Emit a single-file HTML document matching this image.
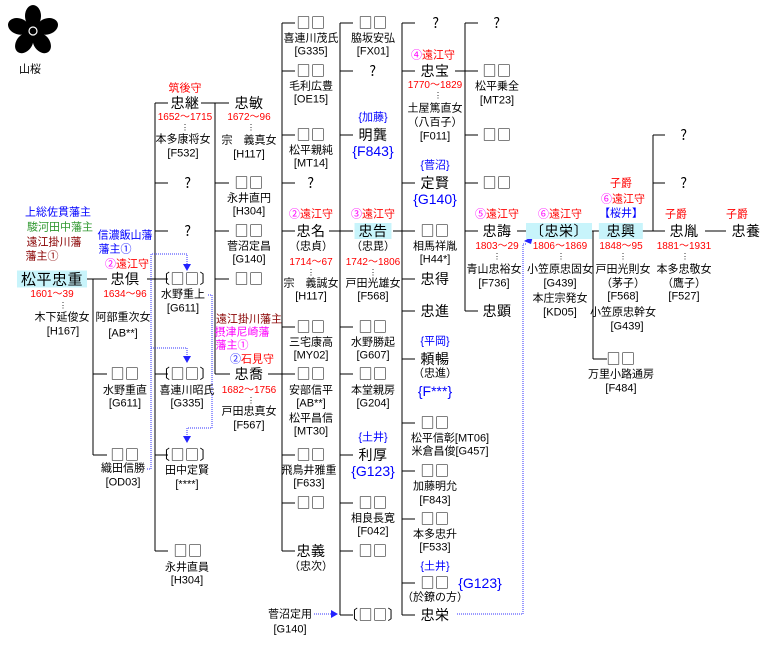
<!DOCTYPE html>
<html><head><meta charset="utf-8"><style>
body{margin:0;background:#fff;width:764px;height:650px;position:relative;overflow:hidden;font-family:"Liberation Sans","Noto Sans CJK JP",sans-serif;color:#000}
.n,.s,.r,.b,.bl,.g,.dr,.m,.rd{position:absolute;transform:translate(-50%,-50%);white-space:nowrap;line-height:1}
.n{font-size:14px;font-family:"Noto Sans CJK JP",sans-serif;letter-spacing:0.5px}
.s{font-size:11px}
.r{font-size:10px;color:#f00}
.b{font-size:11px;color:#00f}
.bl{font-size:14px;color:#00f}
.g{font-size:11px;color:#393}
.dr{font-size:11px;color:#800}
.m{font-size:11px;color:#f0f}
.c{background:#c8f4fb;padding:1px 4px}
.mg{color:#f0f}
.rd{color:#f00;font-size:11px}
svg{position:absolute;left:0;top:0}
</style></head><body>
<svg width="764" height="650" viewBox="0 0 764 650">
<g fill="#000">
<ellipse cx="33" cy="16" rx="8" ry="11"/>
<ellipse cx="33" cy="16" rx="8" ry="11" transform="rotate(72 33 31)"/>
<ellipse cx="33" cy="16" rx="8" ry="11" transform="rotate(144 33 31)"/>
<ellipse cx="33" cy="16" rx="8" ry="11" transform="rotate(216 33 31)"/>
<ellipse cx="33" cy="16" rx="8" ry="11" transform="rotate(288 33 31)"/>
<circle cx="33" cy="31" r="10"/>
</g><circle cx="33" cy="31" r="4" fill="none" stroke="#fff" stroke-width="1.2"/>
<g stroke="#000" stroke-width="1" fill="none" shape-rendering="crispEdges">
<path d="M93 279V455M80 279H107M93 374H107M93 455H107"/>
<path d="M155 103V551M147 279H168M155 103H168M155 183H168M155 231H168M155 374H168M155 455H168M155 551H168"/>
<path d="M215 103V374M201 103H229M215 183H229M215 231H229M215 279H229M215 374H230"/>
<path d="M282 23V551M268 374H295M282 23H295M282 71H295M282 135H295M282 183H295M282 231H295M282 327H295M282 455H295M282 503H295M282 551H295"/>
<path d="M340 23V615M329 231H353M340 23H353M340 71H353M340 135H353M340 327H353M340 374H353M340 455H353M340 503H353M340 551H353M340 615H353"/>
<path d="M402 23V615M393 231H415M402 23H415M402 71H415M402 183H415M402 279H415M402 311H415M402 359H415M402 423H415M402 471H415M402 519H415M402 583H415M402 615H415"/>
<path d="M465 23V311M455 71H478M465 23H478M465 135H478M465 183H478M465 231H478M465 311H478"/>
<path d="M517 231H537M582 231H601M593 231V359M593 359H607"/>
<path d="M642 231H665M653 135V231M653 135H665M653 183H665M705 231H726"/>
</g>
<g stroke="#33f" stroke-width="1" stroke-dasharray="1,1" fill="none" shape-rendering="crispEdges">
<path d="M147 469H151V254H187V264M151 348H187V356M208 295H212V428H187V436M314 614H331M457 614H523V244H526"/>
</g>
<g fill="#22f">
<path d="M183 264h8l-4 7z"/><path d="M183 356h8l-4 7z"/><path d="M183 436h8l-4 7z"/><path d="M331 610v8l7-4z"/><path d="M524 241l9-5-2 8z"/>
</g>
</svg>
<div class="s" style="left:30px;top:70px">山桜</div>
<div class="b" style="left:58px;top:213px">上総佐貫藩主</div>
<div class="g" style="left:60px;top:228px">駿河田中藩主</div>
<div class="dr" style="left:54px;top:243px">遠江掛川藩</div>
<div class="dr" style="left:42px;top:257px">藩主①</div>
<div class="b" style="left:125px;top:236px">信濃飯山藩</div>
<div class="b" style="left:115px;top:250px">藩主①</div>
<div class="rd" style="left:127px;top:265px"><span class="mg">②</span>遠江守</div>
<div class="n c" style="left:52px;top:279px;font-size:15px">松平忠重</div>
<div class="r" style="left:52px;top:295px">1601～39</div>
<div class="s" style="left:63px;top:306px;font-size:8px">⋮</div>
<div class="s" style="left:62px;top:318px">木下延俊女</div>
<div class="s" style="left:63px;top:332px">[H167]</div>
<div class="n" style="left:125px;top:279px">忠倶</div>
<div class="r" style="left:125px;top:295px">1634～96</div>
<div class="s" style="left:123px;top:318px">阿部重次女</div>
<div class="s" style="left:123px;top:334px">[AB**]</div>
<div class="n" style="left:125px;top:374px">□□</div>
<div class="s" style="left:125px;top:391px">水野重直</div>
<div class="s" style="left:125px;top:404px">[G611]</div>
<div class="n" style="left:125px;top:455px">□□</div>
<div class="s" style="left:123px;top:469px">織田信勝</div>
<div class="s" style="left:123px;top:483px">[OD03]</div>

<div class="rd" style="left:185px;top:89px">筑後守</div>
<div class="n" style="left:185px;top:103px">忠継</div>
<div class="r" style="left:185px;top:118px">1652～1715</div>
<div class="s" style="left:185px;top:128px;font-size:8px">⋮</div>
<div class="s" style="left:183px;top:140px">本多康将女</div>
<div class="s" style="left:183px;top:154px">[F532]</div>
<div class="n" style="left:188px;top:183px">?</div>
<div class="n" style="left:188px;top:231px">?</div>
<div class="n" style="left:185px;top:279px">〔□□〕</div>
<div class="s" style="left:183px;top:295px">水野重上</div>
<div class="s" style="left:183px;top:309px">[G611]</div>
<div class="n" style="left:185px;top:374px">〔□□〕</div>
<div class="s" style="left:187px;top:391px">喜連川昭氏</div>
<div class="s" style="left:187px;top:404px">[G335]</div>
<div class="n" style="left:185px;top:455px">〔□□〕</div>
<div class="s" style="left:187px;top:471px">田中定賢</div>
<div class="s" style="left:187px;top:485px">[****]</div>
<div class="n" style="left:188px;top:551px">□□</div>
<div class="s" style="left:187px;top:568px">永井直員</div>
<div class="s" style="left:187px;top:581px">[H304]</div>

<div class="n" style="left:249px;top:103px">忠敏</div>
<div class="r" style="left:249px;top:118px">1672～96</div>
<div class="s" style="left:251px;top:128px;font-size:8px">⋮</div>
<div class="s" style="left:249px;top:141px">宗　義真女</div>
<div class="s" style="left:249px;top:155px">[H117]</div>
<div class="n" style="left:249px;top:183px">□□</div>
<div class="s" style="left:249px;top:199px">永井直円</div>
<div class="s" style="left:249px;top:212px">[H304]</div>
<div class="n" style="left:249px;top:231px">□□</div>
<div class="s" style="left:249px;top:247px">菅沼定昌</div>
<div class="s" style="left:249px;top:260px">[G140]</div>
<div class="n" style="left:249px;top:279px">□□</div>
<div class="dr" style="left:249px;top:320px">遠江掛川藩主</div>
<div class="m" style="left:242px;top:333px">摂津尼崎藩</div>
<div class="m" style="left:232px;top:346px">藩主①</div>
<div class="rd" style="left:252px;top:360px"><span style="color:#33f">②</span>石見守</div>
<div class="n" style="left:249px;top:374px">忠喬</div>
<div class="r" style="left:249px;top:391px">1682～1756</div>
<div class="s" style="left:251px;top:401px;font-size:8px">⋮</div>
<div class="s" style="left:249px;top:412px">戸田忠真女</div>
<div class="s" style="left:249px;top:426px">[F567]</div>

<div class="n" style="left:311px;top:23px">□□</div>
<div class="s" style="left:311px;top:39px">喜連川茂氏</div>
<div class="s" style="left:311px;top:52px">[G335]</div>
<div class="n" style="left:311px;top:71px">□□</div>
<div class="s" style="left:311px;top:87px">毛利広豊</div>
<div class="s" style="left:311px;top:100px">[OE15]</div>
<div class="n" style="left:311px;top:135px">□□</div>
<div class="s" style="left:311px;top:151px">松平親純</div>
<div class="s" style="left:311px;top:164px">[MT14]</div>
<div class="n" style="left:311px;top:183px">?</div>
<div class="rd" style="left:311px;top:215px"><span class="mg">②</span>遠江守</div>
<div class="n" style="left:311px;top:231px">忠名</div>
<div class="s" style="left:311px;top:247px">（忠貞）</div>
<div class="r" style="left:311px;top:263px">1714～67</div>
<div class="s" style="left:311px;top:273px;font-size:8px">⋮</div>
<div class="s" style="left:311px;top:284px">宗　義誠女</div>
<div class="s" style="left:311px;top:297px">[H117]</div>
<div class="n" style="left:311px;top:327px">□□</div>
<div class="s" style="left:311px;top:343px">三宅康高</div>
<div class="s" style="left:311px;top:356px">[MY02]</div>
<div class="n" style="left:311px;top:374px">□□</div>
<div class="s" style="left:311px;top:391px">安部信平</div>
<div class="s" style="left:311px;top:404px">[AB**]</div>
<div class="s" style="left:311px;top:419px">松平昌信</div>
<div class="s" style="left:311px;top:432px">[MT30]</div>
<div class="n" style="left:311px;top:455px">□□</div>
<div class="s" style="left:309px;top:471px">飛鳥井雅重</div>
<div class="s" style="left:309px;top:484px">[F633]</div>
<div class="n" style="left:311px;top:503px">□□</div>
<div class="n" style="left:311px;top:551px">忠義</div>
<div class="s" style="left:311px;top:567px">（忠次）</div>
<div class="s" style="left:290px;top:615px">菅沼定用</div>
<div class="s" style="left:290px;top:630px">[G140]</div>

<div class="n" style="left:373px;top:23px">□□</div>
<div class="s" style="left:373px;top:39px">脇坂安弘</div>
<div class="s" style="left:373px;top:52px">[FX01]</div>
<div class="n" style="left:373px;top:71px">?</div>
<div class="b" style="left:373px;top:118px">{加藤}</div>
<div class="n" style="left:373px;top:135px">明龔</div>
<div class="bl" style="left:373px;top:151px">{F843}</div>
<div class="rd" style="left:373px;top:215px"><span class="mg">③</span>遠江守</div>
<div class="n c" style="left:373px;top:231px">忠告</div>
<div class="s" style="left:373px;top:247px">（忠毘）</div>
<div class="r" style="left:373px;top:263px">1742～1806</div>
<div class="s" style="left:373px;top:273px;font-size:8px">⋮</div>
<div class="s" style="left:373px;top:284px">戸田光雄女</div>
<div class="s" style="left:373px;top:297px">[F568]</div>
<div class="n" style="left:373px;top:327px">□□</div>
<div class="s" style="left:373px;top:343px">水野勝起</div>
<div class="s" style="left:373px;top:356px">[G607]</div>
<div class="n" style="left:373px;top:374px">□□</div>
<div class="s" style="left:373px;top:391px">本堂親房</div>
<div class="s" style="left:373px;top:404px">[G204]</div>
<div class="b" style="left:373px;top:438px">{土井}</div>
<div class="n" style="left:373px;top:455px">利厚</div>
<div class="bl" style="left:373px;top:471px">{G123}</div>
<div class="n" style="left:373px;top:503px">□□</div>
<div class="s" style="left:373px;top:519px">相良長寛</div>
<div class="s" style="left:373px;top:532px">[F042]</div>
<div class="n" style="left:373px;top:551px">□□</div>
<div class="n" style="left:373px;top:615px">〔□□〕</div>

<div class="n" style="left:436px;top:23px">?</div>
<div class="rd" style="left:433px;top:56px"><span class="mg">④</span>遠江守</div>
<div class="n" style="left:435px;top:71px">忠宝</div>
<div class="r" style="left:435px;top:86px">1770～1829</div>
<div class="s" style="left:438px;top:96px;font-size:8px">⋮</div>
<div class="s" style="left:435px;top:109px">土屋篤直女</div>
<div class="s" style="left:435px;top:123px">（八百子）</div>
<div class="s" style="left:435px;top:137px">[F011]</div>
<div class="b" style="left:435px;top:166px">{菅沼}</div>
<div class="n" style="left:435px;top:183px">定賢</div>
<div class="bl" style="left:435px;top:199px">{G140}</div>
<div class="n" style="left:435px;top:231px">□□</div>
<div class="s" style="left:435px;top:247px">相馬祥胤</div>
<div class="s" style="left:435px;top:260px">[H44*]</div>
<div class="n" style="left:435px;top:279px">忠得</div>
<div class="n" style="left:435px;top:311px">忠進</div>
<div class="b" style="left:435px;top:342px">{平岡}</div>
<div class="n" style="left:435px;top:359px">頼暢</div>
<div class="s" style="left:435px;top:374px">（忠進）</div>
<div class="bl" style="left:435px;top:391px">{F***}</div>
<div class="n" style="left:435px;top:423px">□□</div>
<div class="s" style="left:450px;top:439px">松平信彰[MT06]</div>
<div class="s" style="left:450px;top:452px">米倉昌俊[G457]</div>
<div class="n" style="left:435px;top:471px">□□</div>
<div class="s" style="left:435px;top:487px">加藤明允</div>
<div class="s" style="left:435px;top:501px">[F843]</div>
<div class="n" style="left:435px;top:519px">□□</div>
<div class="s" style="left:435px;top:535px">本多忠升</div>
<div class="s" style="left:435px;top:548px">[F533]</div>
<div class="b" style="left:435px;top:567px">{土井}</div>
<div class="n" style="left:435px;top:583px">□□</div>
<div class="bl" style="left:480px;top:583px">{G123}</div>
<div class="s" style="left:435px;top:598px">（於鐐の方）</div>
<div class="n" style="left:435px;top:615px">忠栄</div>

<div class="n" style="left:497px;top:23px">?</div>
<div class="n" style="left:497px;top:71px">□□</div>
<div class="s" style="left:497px;top:87px">松平乗全</div>
<div class="s" style="left:497px;top:101px">[MT23]</div>
<div class="n" style="left:497px;top:135px">□□</div>
<div class="n" style="left:497px;top:183px">□□</div>
<div class="rd" style="left:497px;top:215px"><span class="mg">⑤</span>遠江守</div>
<div class="n" style="left:497px;top:231px">忠誨</div>
<div class="r" style="left:497px;top:247px">1803～29</div>
<div class="s" style="left:497px;top:257px;font-size:8px">⋮</div>
<div class="s" style="left:494px;top:270px">青山忠裕女</div>
<div class="s" style="left:494px;top:284px">[F736]</div>
<div class="n" style="left:497px;top:311px">忠顕</div>

<div class="rd" style="left:560px;top:215px"><span class="mg">⑥</span>遠江守</div>
<div class="n c" style="left:559px;top:231px">〔忠栄〕</div>
<div class="r" style="left:560px;top:247px">1806～1869</div>
<div class="s" style="left:561px;top:257px;font-size:8px">⋮</div>
<div class="s" style="left:560px;top:270px">小笠原忠固女</div>
<div class="s" style="left:560px;top:284px">[G439]</div>
<div class="s" style="left:560px;top:299px">本庄宗発女</div>
<div class="s" style="left:560px;top:313px">[KD05]</div>

<div class="rd" style="left:621px;top:184px">子爵</div>
<div class="rd" style="left:623px;top:200px"><span class="mg">⑥</span>遠江守</div>
<div class="b" style="left:621px;top:214px">【桜井】</div>
<div class="n c" style="left:621px;top:231px">&nbsp;忠興&nbsp;</div>
<div class="r" style="left:621px;top:247px">1848～95</div>
<div class="s" style="left:623px;top:257px;font-size:8px">⋮</div>
<div class="s" style="left:623px;top:270px">戸田光則女</div>
<div class="s" style="left:623px;top:284px">（茅子）</div>
<div class="s" style="left:623px;top:297px">[F568]</div>
<div class="s" style="left:623px;top:313px">小笠原忠幹女</div>
<div class="s" style="left:627px;top:327px">[G439]</div>
<div class="n" style="left:621px;top:359px">□□</div>
<div class="s" style="left:621px;top:375px">万里小路通房</div>
<div class="s" style="left:621px;top:389px">[F484]</div>

<div class="n" style="left:684px;top:135px">?</div>
<div class="n" style="left:684px;top:183px">?</div>
<div class="rd" style="left:676px;top:215px">子爵</div>
<div class="n" style="left:684px;top:231px">忠胤</div>
<div class="r" style="left:684px;top:247px">1881～1931</div>
<div class="s" style="left:685px;top:257px;font-size:8px">⋮</div>
<div class="s" style="left:684px;top:270px">本多忠敬女</div>
<div class="s" style="left:684px;top:284px">（鷹子）</div>
<div class="s" style="left:684px;top:297px">[F527]</div>
<div class="rd" style="left:737px;top:215px">子爵</div>
<div class="n" style="left:746px;top:231px">忠養</div>
</body></html>
